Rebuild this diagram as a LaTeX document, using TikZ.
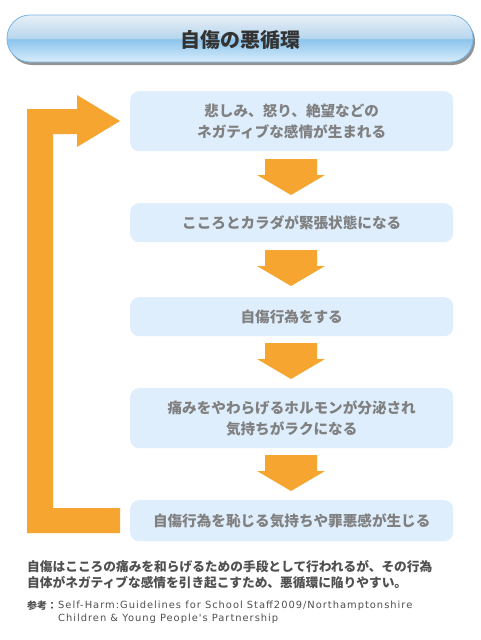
\documentclass[tikz,border=0pt]{standalone}
\usepackage{fontspec}
\setmainfont{Noto Sans CJK JP}
\newfontfamily\jp{Noto Sans CJK JP}
\newfontfamily\lat[LetterSpace=10]{DejaVu Sans}
\usetikzlibrary{shadows}
\definecolor{orng}{HTML}{F6A530}
\definecolor{boxfill}{HTML}{DEEEFC}
\definecolor{boxtext}{HTML}{808080}
\definecolor{hdtop}{HTML}{E8EFF6}
\definecolor{hdup}{HTML}{B8D7EE}
\definecolor{hdmid}{HTML}{8CC4EC}
\definecolor{hdbot}{HTML}{D8EDFB}
\definecolor{hdline}{HTML}{78B6E6}
\definecolor{notetext}{HTML}{505050}
\pgfdeclareverticalshading{hdshade}{100bp}{color(0bp)=(hdbot); color(25bp)=(hdbot); color(49bp)=(hdmid); color(51bp)=(hdup); color(75bp)=(hdtop); color(100bp)=(hdtop)}
\tikzset{
  stepbox/.style={fill=boxfill, rounded corners=9pt, draw=none, minimum width=323pt, anchor=north west, inner sep=0pt},
  boxlabel/.style={text=boxtext, font=\jp\bfseries\fontsize{14.6}{20.5}\selectfont, align=center},
  downarrow/.style={fill=orng, draw=none},
  notestyle/.style={anchor=west, text=notetext, font=\jp\bfseries\fontsize{12.7}{15}\selectfont, inner sep=0pt},
  refstyle/.style={anchor=west, text=notetext, font=\lat\fontsize{9.9}{12}\selectfont, inner sep=0pt},
}
\begin{document}
\begin{tikzpicture}[x=1pt,y=-1pt]
\useasboundingbox (0,0) rectangle (480,640);
\fill[white] (0,0) rectangle (480,640);
% header
\node[draw=hdline, line width=0.8pt, rounded corners=23pt, minimum width=466pt, minimum height=47pt,
  shading=hdshade,
  drop shadow={shadow xshift=2pt, shadow yshift=-3pt, opacity=0.6, fill=black!70}]
  (header) at (240,38.5) {};
\node[text=black!80, font=\jp\bfseries\fontsize{20}{24}\selectfont] (title) at (240,40) {自傷の悪循環};
% boxes
\node[stepbox, minimum height=60pt] (b1) at (130,91) {};
\node[boxlabel] (t1) at (b1.center) {悲しみ、怒り、絶望などの\\ネガティブな感情が生まれる};
\node[stepbox, minimum height=39pt] (b2) at (130,203) {};
\node[boxlabel] (t2) at (b2.center) {こころとカラダが緊張状態になる};
\node[stepbox, minimum height=39pt] (b3) at (130,297) {};
\node[boxlabel] (t3) at (b3.center) {自傷行為をする};
\node[stepbox, minimum height=60pt] (b4) at (130,388) {};
\node[boxlabel] (t4) at (b4.center) {痛みをやわらげるホルモンが分泌され\\気持ちがラクになる};
\node[stepbox, minimum height=41pt] (b5) at (130,500) {};
\node[boxlabel] (t5) at (b5.center) {自傷行為を恥じる気持ちや罪悪感が生じる};
% down arrows
\foreach \y in {159,250,343,455}{
  \fill[downarrow] (265,\y) -- (317,\y) -- (317,\y+16) -- (325,\y+16) -- (291,\y+36) -- (257,\y+16) -- (265,\y+16) -- cycle;
}
% loop arrow
\fill[downarrow] (120,533) -- (27,533) -- (27,109) -- (77,109) -- (77,95) -- (120,121) -- (77,147) -- (77,134) -- (53,134) -- (53,508) -- (120,508) -- cycle;
% note
\node[notestyle] (n1) at (27,567) {自傷はこころの痛みを和らげるための手段として行われるが、その行為};
\node[notestyle] (n2) at (27,583) {自体がネガティブな感情を引き起こすため、悪循環に陥りやすい。};
\node[anchor=west, text=notetext, font=\jp\bfseries\fontsize{10}{12}\selectfont, inner sep=0pt] (r0) at (27,606) {参考：};
\node[refstyle] (r1) at (58,606) {Self-Harm:Guidelines for School Staff2009/Northamptonshire};
\node[refstyle] (r2) at (58,619) {Children \& Young People's Partnership};
\end{tikzpicture}
\end{document}
